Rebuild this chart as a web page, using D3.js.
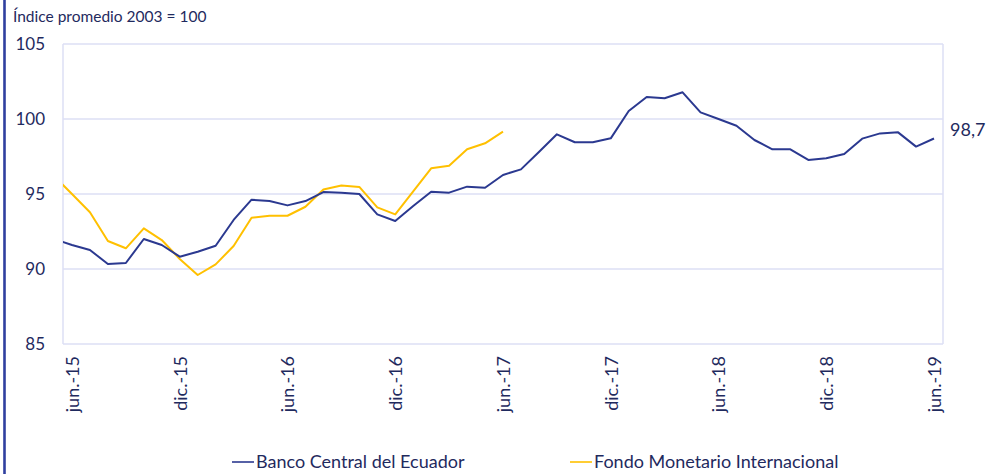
<!DOCTYPE html>
<html>
<head>
<meta charset="utf-8">
<script src="https://cdn.jsdelivr.net/npm/d3@7"></script>
<style>
  html, body { margin: 0; padding: 0; background: #ffffff; }
  svg { display: block; }
  text { font-family: Lato, "Open Sans", sans-serif; fill: #1f2a5e; }
</style>
</head>
<body>
<svg id="chart" width="992" height="474"></svg>
<script>
// ---- Data (monthly, may.-15 .. jun.-19; first value lies just before the axis start) ----
const firstMonthIndex = -1; // may.-15 relative to jun.-15
const tickLabels = ["jun.-15","dic.-15","jun.-16","dic.-16","jun.-17","dic.-17","jun.-18","dic.-18","jun.-19"];
const tickEvery = 6;
const yTicks = [85, 90, 95, 100, 105];

const bceValues = [
  92.0, 91.6, 91.27, 90.33, 90.4, 92.0, 91.6, 90.82,
  91.15, 91.55, 93.27, 94.62, 94.53, 94.24, 94.53, 95.13, 95.09, 95.0, 93.64, 93.2,
  94.2, 95.15, 95.09, 95.49, 95.42, 96.27, 96.64, 97.8, 98.98, 98.45, 98.45, 98.71,
  100.53, 101.47, 101.38, 101.78, 100.44, 100.0, 99.55, 98.6, 97.98, 97.98, 97.27, 97.38,
  97.67, 98.69, 99.04, 99.11, 98.16, 98.7
];
const fmiValues = [
  96.2, 95.0, 93.78, 91.87, 91.38, 92.71, 91.93, 90.67,
  89.6, 90.31, 91.53, 93.42, 93.55, 93.55, 94.15, 95.3, 95.56, 95.47, 94.11, 93.64,
  95.18, 96.71, 96.89, 97.98, 98.38, 99.16
];
const seriesNames = ["Banco Central del Ecuador", "Fondo Monetario Internacional"];
const seriesColors = ["#2b3990", "#ffc000"];
const lastLabel = "98,7";
const yTitle = "Índice promedio 2003 = 100";

// ---- Layout ----
const svg = d3.select("#chart");
const plot = { left: 63, right: 943, top: 44, bottom: 344 };
const nMonths = 49; // jun.-15 .. jun.-19

const x = d3.scaleLinear().domain([-0.5, nMonths - 0.5]).range([plot.left, plot.right]);
const y = d3.scaleLinear().domain([85, 105]).range([plot.bottom, plot.top]);

// frame line on the left
svg.append("line")
  .attr("x1", 4.5).attr("x2", 4.5).attr("y1", 0).attr("y2", 474)
  .attr("stroke", "#2f3f9f").attr("stroke-width", 2.6);

// y title
svg.append("text").attr("x", 13).attr("y", 22)
  .style("font-size", "15.5px").text(yTitle);

// grid lines
const gridColor = "#dcdff4";
svg.append("g").selectAll("line").data(yTicks).join("line")
  .attr("x1", plot.left).attr("x2", plot.right)
  .attr("y1", d => y(d)).attr("y2", d => y(d))
  .attr("stroke", gridColor).attr("stroke-width", 1.5);
// side borders
[plot.left, plot.right].forEach(px => {
  svg.append("line").attr("x1", px).attr("x2", px)
    .attr("y1", plot.top).attr("y2", plot.bottom)
    .attr("stroke", gridColor).attr("stroke-width", 1.5);
});

// y axis labels
const yAxis = d3.axisLeft(y).tickValues(yTicks).tickSize(0).tickPadding(18);
const yg = svg.append("g").attr("transform", `translate(${plot.left},0)`).call(yAxis);
yg.select(".domain").remove();
yg.selectAll("text").style("font-size", "17px").style("font-family", "Lato, sans-serif").attr("fill", "#1f2a5e");

// x axis labels (rotated)
const xTickVals = tickLabels.map((d, i) => i * tickEvery);
const xAxis = d3.axisBottom(x).tickValues(xTickVals).tickSize(0)
  .tickFormat((d, i) => tickLabels[i]);
const xg = svg.append("g").attr("transform", `translate(0,${plot.bottom})`).call(xAxis);
xg.select(".domain").remove();
xg.selectAll("text")
  .style("font-size", "18px").style("font-family", "Lato, sans-serif").attr("fill", "#1f2a5e")
  .attr("text-anchor", "end")
  .attr("transform", "rotate(-90)")
  .attr("x", -12).attr("y", 0).attr("dy", "0.35em");

// clip
svg.append("clipPath").attr("id", "plotclip").append("rect")
  .attr("x", plot.left).attr("y", 0).attr("width", plot.right - plot.left).attr("height", 474);

const line = d3.line().x((d, i) => x(firstMonthIndex + i)).y(d => y(d));
const lines = svg.append("g").attr("clip-path", "url(#plotclip)");
lines.append("path").datum(fmiValues).attr("d", line)
  .attr("fill", "none").attr("stroke", seriesColors[1]).attr("stroke-width", 2).attr("stroke-linejoin", "round");
lines.append("path").datum(bceValues).attr("d", line)
  .attr("fill", "none").attr("stroke", seriesColors[0]).attr("stroke-width", 2).attr("stroke-linejoin", "round");

// last value label
svg.append("text")
  .attr("x", plot.right + 7)
  .attr("y", y(bceValues[bceValues.length - 1]) - 9)
  .attr("dy", "0.35em")
  .style("font-size", "18px").text(lastLabel);

// legend
const legendItems = [{ x: 232 }, { x: 570 }];
legendItems.forEach((it, i) => {
  svg.append("line").attr("x1", it.x).attr("x2", it.x + 22)
    .attr("y1", 462).attr("y2", 462)
    .attr("stroke", seriesColors[i]).attr("stroke-width", 1.6);
  svg.append("text").attr("x", it.x + 24).attr("y", 462).attr("dy", "0.35em")
    .style("font-size", "18px").text(seriesNames[i]);
});
</script>
</body>
</html>
